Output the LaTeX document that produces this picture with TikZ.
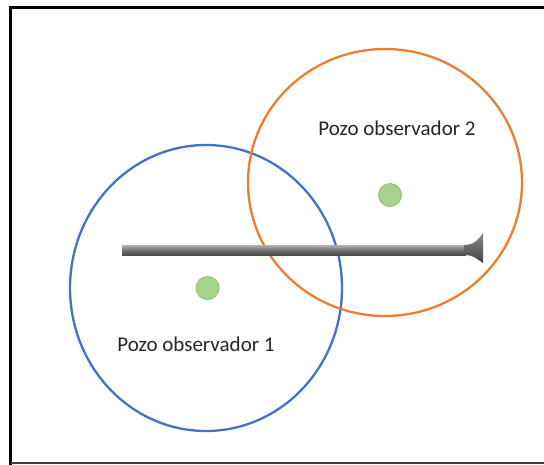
\documentclass[tikz,border=0pt]{standalone}
\usepackage{fontspec}
\setmainfont{Carlito}
\usetikzlibrary{shapes.geometric}
\definecolor{wellblue}{HTML}{4472C4}
\definecolor{wellorange}{HTML}{ED7D31}
\definecolor{dotfill}{HTML}{A9D18E}
\definecolor{dotline}{HTML}{8CBF6A}
\definecolor{labeltext}{HTML}{262626}
\tikzset{
  frame/.style={line width=3pt, black},
  ring/.style={draw, ellipse, line width=2.3pt, inner sep=0pt},
  welldot/.style={circle, fill=dotfill, draw=dotline, line width=0.8pt, minimum size=23pt, inner sep=0pt},
  lbl/.style={font=\fontsize{21}{25}\selectfont, text=labeltext, inner sep=0pt, anchor=base},
}
\begin{document}
\begin{tikzpicture}[x=1pt,y=-1pt]
\useasboundingbox (0,0) rectangle (544,464);
\clip (0,0) rectangle (544,464);
\fill[white] (0,0) rectangle (544,464);
% frame
\draw[frame] (560,7.5) -- (10.5,7.5) -- (10.5,470);
\draw[line width=2pt, black!75] (10.5,463) -- (560,463);
% circles
\node[ring, draw=wellblue, minimum width=272pt, minimum height=286pt] (c1) at (206,288) {};
\node[ring, draw=wellorange, minimum width=274pt, minimum height=267pt] (c2) at (385,182.5) {};
% bar
\shade[top color=black!30, bottom color=black!70, middle color=black!55] (122,245) rectangle (466,255);
\shade[top color=black!45, bottom color=black!75]
  (464,245) .. controls (474,245) and (478,240) .. (483,233) -- (483,263)
  .. controls (478,260) and (474,255) .. (464,255) -- cycle;
% dots
\node[welldot] (d1) at (207.5,288) {};
\node[welldot] (d2) at (390,195) {};
% labels
\node[lbl] (t1) at (196,351.5) {Pozo observador 1};
\node[lbl] (t2) at (397,135) {Pozo observador 2};
\end{tikzpicture}
\end{document}
